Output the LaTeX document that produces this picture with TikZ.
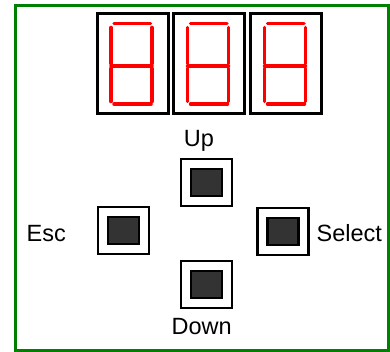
\documentclass[tikz,border=0pt]{standalone}
\usepackage{fontspec}
\setmainfont{Liberation Sans}
\definecolor{panelgreen}{RGB}{0,128,0}
\definecolor{keygray}{RGB}{51,51,51}
\tikzset{
  panel/.style={draw=panelgreen,line width=3.5pt},
  digitbox/.style={draw=black,line width=3pt,fill=white,minimum width=71pt,minimum height=100pt,inner sep=0pt},
  seg/.style={draw=red,line width=3.5pt,line cap=round},
  keyouter/.style={draw=black,line width=2.5pt,fill=white,minimum width=51pt,minimum height=47pt,inner sep=0pt},
  keyinner/.style={draw=black,line width=2.5pt,fill=keygray,minimum width=31pt,minimum height=27pt,inner sep=0pt},
  lbl/.style={font=\fontsize{23.5}{28}\selectfont,inner sep=0pt}
}
\newcommand{\sevenseg}[1]{%
  \begin{scope}[shift={(#1.north west)}]
    \draw[seg] (18.5,11) -- (55,11);
    \draw[seg] (15.5,15) -- (15.5,51);
    \draw[seg] (56.5,15) -- (56.5,51);
    \draw[seg] (15.5,53.7) -- (56.5,53.7);
    \draw[seg] (15.5,56) -- (15.5,89);
    \draw[seg] (56.5,56) -- (56.5,89);
    \draw[seg] (18.5,91.5) -- (55.5,91.5);
  \end{scope}}
\begin{document}
\begin{tikzpicture}[x=1pt,y=-1pt]
\useasboundingbox (0,0) rectangle (390,352);
\draw[panel] (15.5,5.5) rectangle (388.5,350.5);
\node[digitbox] (d1) at (132.5,64) {};
\node[digitbox] (d2) at (209,64) {};
\node[digitbox] (d3) at (286,64) {};
\sevenseg{d1}
\sevenseg{d2}
\sevenseg{d3}
\node[keyouter] (kup) at (206.7,182.5) {};
\node[keyinner] (kupi) at (kup.center) {};
\node[keyouter] (kesc) at (123.3,230.7) {};
\node[keyinner] (kesci) at (kesc.center) {};
\node[keyouter] (ksel) at (283,231.5) {};
\node[keyinner] (kseli) at (ksel.center) {};
\node[keyouter] (kdown) at (206.7,284.7) {};
\node[keyinner] (kdowni) at (kdown.center) {};
\node[lbl,anchor=base] (tup) at (199,147) {Up};
\node[lbl,anchor=base west] (tesc) at (26.5,241.5) {Esc};
\node[lbl,anchor=base west] (tsel) at (316.5,241.5) {Select};
\node[lbl,anchor=base] (tdown) at (201.7,334) {Down};
\end{tikzpicture}
\end{document}
